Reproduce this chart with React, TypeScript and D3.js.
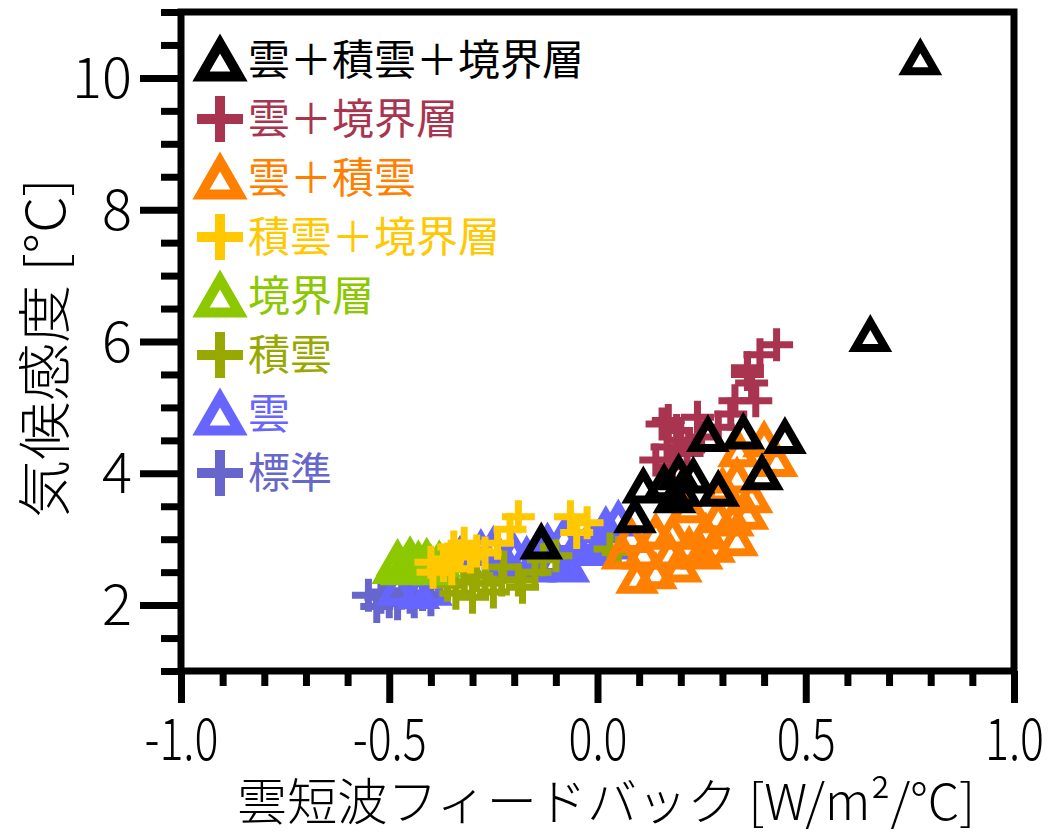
import React, { useRef, useEffect } from 'react';
import * as d3 from 'd3';

const W = 1050;
const H = 833;

const xTicks = [-1.0, -0.5, 0.0, 0.5, 1.0];
const yTicks = [2, 4, 6, 8, 10];

const legendNames = ['雲＋積雲＋境界層', '雲＋境界層', '雲＋積雲', '積雲＋境界層', '境界層', '積雲', '雲', '標準'];
const legendColors = ['#000000', '#A8344F', '#FF8000', '#FFC800', '#8CC800', '#99A800', '#6666FF', '#6666CC'];
const legendShapes = ['tri', 'plus', 'tri', 'plus', 'tri', 'plus', 'tri', 'plus'];

// [雲短波フィードバック, 気候感度]
const cloudCuBl = [
  [0.775, 10.3], [0.655, 6.1], [-0.135, 2.95], [0.395, 4.0], [0.45, 4.55], [0.35, 4.62],
  [0.265, 4.58], [0.29, 3.75], [0.195, 4.0], [0.23, 3.95], [0.185, 3.65], [0.11, 3.8],
  [0.09, 3.35], [0.2, 3.75], [0.16, 3.85],
];
const cloudBl = [
  [0.43, 5.95], [0.39, 5.8], [0.36, 5.6], [0.36, 5.5], [0.37, 5.37], [0.38, 5.1], [0.33, 5.1],
  [0.32, 4.9], [0.17, 4.8], [0.155, 4.75], [0.19, 4.65], [0.167, 4.4], [0.2, 4.5], [0.215, 4.3],
  [0.14, 4.2], [0.24, 4.85], [0.29, 4.7], [0.25, 4.55], [0.18, 4.1],
];
const cloudCu = [
  [0.40, 4.5], [0.43, 4.2], [0.335, 3.95], [0.37, 3.65], [0.325, 3.3], [0.335, 3.0], [0.25, 2.8],
  [0.095, 2.43], [0.14, 2.5], [0.2, 2.6], [0.06, 2.8], [0.26, 3.1], [0.29, 3.35], [0.18, 3.1],
  [0.22, 3.5], [0.14, 3.1], [0.11, 2.8], [0.3, 3.8], [0.34, 4.35], [0.175, 2.8], [0.22, 2.9],
  [0.08, 3.05], [0.28, 2.9], [0.36, 3.4],
];
const cuBl = [
  [-0.395, 2.5], [-0.37, 2.6], [-0.36, 2.7], [-0.345, 2.88], [-0.33, 2.75], [-0.32, 2.94],
  [-0.305, 2.73], [-0.29, 2.82], [-0.27, 2.79], [-0.24, 2.94], [-0.21, 3.15], [-0.19, 3.34],
  [-0.065, 3.34], [-0.025, 3.25], [-0.05, 3.1], [-0.4, 2.65], [-0.35, 2.55],
];
const bl = [
  [-0.49, 2.58], [-0.48, 2.7], [-0.46, 2.62], [-0.45, 2.74], [-0.44, 2.58], [-0.43, 2.68],
  [-0.42, 2.6], [-0.41, 2.72], [-0.40, 2.62], [-0.39, 2.56], [-0.47, 2.56], [-0.38, 2.68],
];
const cu = [
  [-0.34, 2.18], [-0.3, 2.12], [-0.32, 2.35], [-0.27, 2.33], [-0.25, 2.2], [-0.23, 2.38],
  [-0.19, 2.38], [-0.18, 2.27], [-0.225, 2.58], [-0.13, 2.69], [-0.29, 2.45], [-0.15, 2.5],
  [-0.1, 2.75], [0.03, 2.85], [0.05, 2.8], [-0.36, 2.3],
];
const cloud = [
  [-0.48, 2.25], [-0.43, 2.2], [-0.40, 2.25], [-0.33, 2.75], [-0.28, 2.85], [-0.25, 2.9],
  [-0.2, 2.8], [-0.17, 2.75], [-0.1, 2.7], [-0.07, 2.6], [-0.12, 2.95], [-0.05, 2.9],
  [-0.02, 3.0], [0.0, 2.85], [0.02, 3.2], [0.05, 3.3], [0.04, 2.95], [-0.08, 3.05],
  [-0.15, 2.6], [-0.22, 2.65],
];
const standard = [
  [-0.55, 2.15], [-0.52, 2.12], [-0.50, 2.05], [-0.53, 1.98], [-0.48, 2.02], [-0.47, 2.18],
  [-0.45, 2.12], [-0.42, 2.16], [-0.40, 2.08], [-0.51, 2.2], [-0.44, 2.05],
];

const seriesData = [cloudCuBl, cloudBl, cloudCu, cuBl, bl, cu, cloud, standard];

const font = '"Noto Sans CJK JP", "Noto Sans", sans-serif';

function triPath(w, h) {
  return `M0,${-h / 2}L${w / 2},${h / 2}L${-w / 2},${h / 2}Z`;
}
function plusPath(s) {
  return `M${-s / 2},0H${s / 2}M0,${-s / 2}V${s / 2}`;
}

export default function App() {
  const ref = useRef<SVGSVGElement>(null);

  useEffect(() => {
    const svg = d3.select(ref.current);
    svg.selectAll('*').remove();

    const x = d3.scaleLinear().domain([-1, 1]).range([181, 1014]);
    const y = d3.scaleLinear().domain([1, 11]).range([671, 12]);

    const xMinor = d3.range(-10, 11).map(i => i / 10).filter(v => !xTicks.includes(v));
    const yMinor = d3.range(2, 23).map(i => i / 2).filter(v => !yTicks.includes(v));

    // minor ticks
    const gxm = svg.append('g').attr('transform', `translate(0,${y(1)})`)
      .call(d3.axisBottom(x).tickValues(xMinor).tickSize(15).tickSizeOuter(0).tickFormat(() => ''));
    const gym = svg.append('g').attr('transform', `translate(${x(-1)},0)`)
      .call(d3.axisLeft(y).tickValues(yMinor).tickSize(20).tickSizeOuter(0).tickFormat(() => ''));

    // major ticks
    const fmt = d3.format('.1f');
    const gx = svg.append('g').attr('transform', `translate(0,${y(1)})`)
      .call(d3.axisBottom(x).tickValues(xTicks).tickSize(32).tickSizeOuter(0)
        .tickFormat(d => fmt(d).replace('−', '-')));
    const gy = svg.append('g').attr('transform', `translate(${x(-1)},0)`)
      .call(d3.axisLeft(y).tickValues(yTicks).tickSize(41).tickSizeOuter(0).tickFormat(d3.format('d')));

    [gxm, gym, gx, gy].forEach(g => {
      g.select('.domain').remove();
      g.selectAll('line').attr('stroke', '#000').attr('stroke-width', 7);
    });

    gx.selectAll('text')
      .attr('font-family', font).attr('font-size', 56).attr('font-weight', 300).attr('fill', '#000')
      .attr('y', 0).attr('dy', 0)
      .attr('transform', 'translate(0,89) scale(0.8,1.04)');
    gy.selectAll('text')
      .attr('font-family', font).attr('font-size', 56).attr('font-weight', 300).attr('fill', '#000')
      .attr('x', -49).attr('dy', '0.35em');

    // frame
    svg.append('rect')
      .attr('x', x(-1)).attr('y', y(11))
      .attr('width', x(1) - x(-1)).attr('height', y(1) - y(11))
      .attr('fill', 'none').attr('stroke', '#000').attr('stroke-width', 7);

    // points, drawn from last legend entry to first
    const plot = svg.append('g');
    for (let i = seriesData.length - 1; i >= 0; i--) {
      plot.append('g')
        .selectAll('path')
        .data(seriesData[i])
        .enter()
        .append('path')
        .attr('transform', d => `translate(${x(d[0])},${y(d[1])})`)
        .attr('d', legendShapes[i] === 'tri' ? triPath(30, 26) : plusPath(33))
        .attr('fill', 'none')
        .attr('stroke', legendColors[i])
        .attr('stroke-width', legendShapes[i] === 'tri' ? 8 : 7);
    }

    // legend
    const leg = svg.append('g');
    const rows = leg.selectAll('g')
      .data(legendNames)
      .enter()
      .append('g')
      .attr('transform', (d, i) => `translate(220,${60 + i * 59})`);
    rows.append('path')
      .attr('d', (d, i) => legendShapes[i] === 'tri' ? triPath(38, 33) : plusPath(46))
      .attr('fill', 'none')
      .attr('stroke', (d, i) => legendColors[i])
      .attr('stroke-width', 10);
    rows.append('text')
      .attr('x', 28)
      .attr('dy', '0.36em')
      .attr('font-family', font)
      .attr('font-size', 42)
      .attr('fill', (d, i) => legendColors[i])
      .text(d => d);

    // axis titles
    svg.append('text')
      .attr('x', 237).attr('y', 820)
      .attr('font-family', font).attr('font-size', 48).attr('font-weight', 300)
      .attr('transform', 'translate(0,-33) scale(1,1.04)')
      .attr('textLength', 738).attr('lengthAdjust', 'spacingAndGlyphs')
      .text('雲短波フィードバック [W/m²/°C]');
    svg.append('text')
      .attr('transform', 'translate(46,348) rotate(-90)')
      .attr('text-anchor', 'middle').attr('dy', '0.36em')
      .attr('font-family', font).attr('font-size', 54).attr('font-weight', 300)
      .attr('textLength', 340).attr('lengthAdjust', 'spacingAndGlyphs')
      .text('気候感度 [°C]');
  }, []);

  return (
    <svg ref={ref} width={W} height={H} style={{ position: 'absolute', left: 0, top: 0, background: '#fff' }} />
  );
}
